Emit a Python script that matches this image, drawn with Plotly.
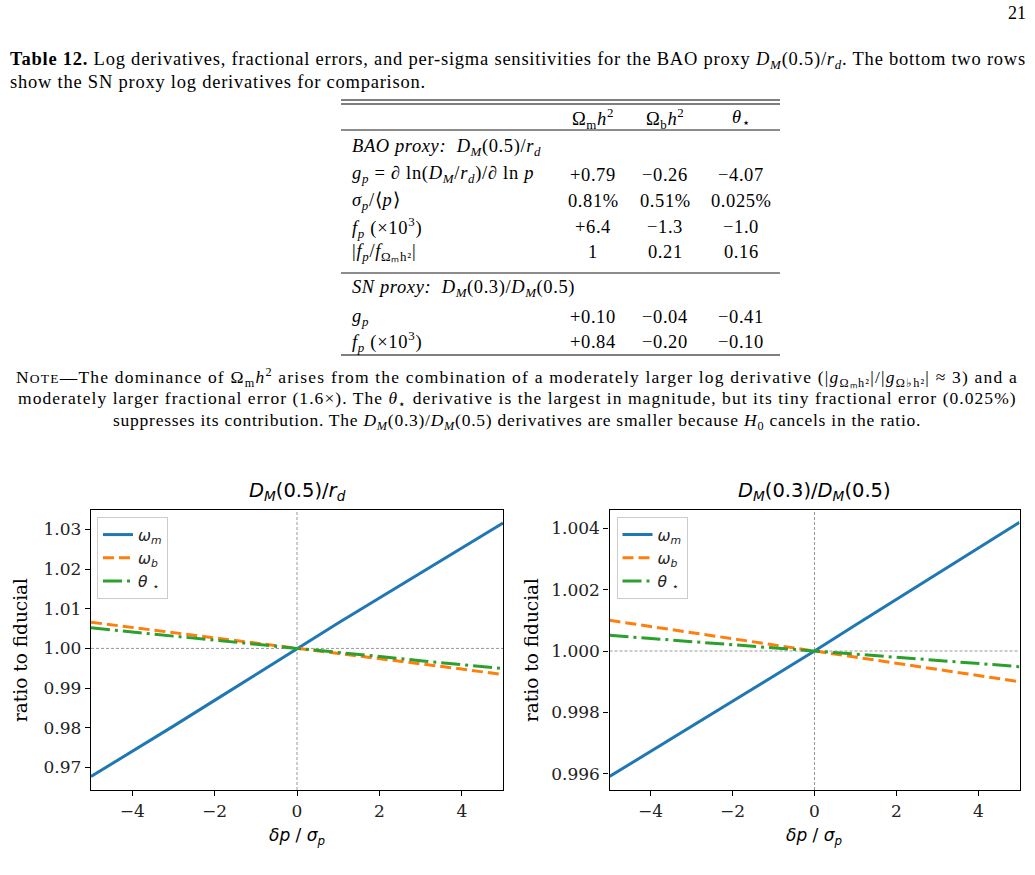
import plotly.graph_objects as go

W, H = 1035, 875

# ---------------- data ----------------
x_sig = [-5, -4, -3, -2, -1, 0, 1, 2, 3, 4, 5]

# Left panel: D_M(0.5)/r_d
bao_wm = [0.9677, 0.9740, 0.9804, 0.9869, 0.9934, 1.0000, 1.0064, 1.0127, 1.0190, 1.0253, 1.0316]
bao_wb = [1.0066, 1.0053, 1.0040, 1.0026, 1.0013, 1.0000, 0.9987, 0.9974, 0.9961, 0.9948, 0.9934]
bao_th = [1.0052, 1.0041, 1.0031, 1.0021, 1.0010, 1.0000, 0.9990, 0.9979, 0.9969, 0.9959, 0.9949]

# Right panel: D_M(0.3)/D_M(0.5)
sn_wm = [0.99591, 0.99673, 0.99756, 0.99838, 0.99919, 1.00000, 1.00085, 1.00168, 1.00252, 1.00336, 1.00419]
sn_wb = [1.00100, 1.00080, 1.00060, 1.00040, 1.00020, 1.00000, 0.99980, 0.99960, 0.99940, 0.99920, 0.99900]
sn_th = [1.00051, 1.00041, 1.00031, 1.00020, 1.00010, 1.00000, 0.99990, 0.99980, 0.99969, 0.99959, 0.99949]

series_names = ["<i>ω<sub>m</sub></i>", "<i>ω<sub>b</sub></i>", "<i>θ</i> <sub>⋆</sub>"]
series_colors = ["#1f77b4", "#ff7f0e", "#2ca02c"]
series_dash = ["solid", "11px,5px", "19px,5px,3px,5px"]

left_yticks = [0.97, 0.98, 0.99, 1.00, 1.01, 1.02, 1.03]
right_yticks = [0.996, 0.998, 1.000, 1.002, 1.004]
x_ticks = [-4, -2, 0, 2, 4]

# Table contents
col_heads = ["Ω<sub>m</sub><i>h</i><sup>2</sup>", "Ω<sub>b</sub><i>h</i><sup>2</sup>", "<i>θ</i><sub>⋆</sub>"]
bao_rows = [
    ("<i>g<sub>p</sub></i> = ∂ ln(<i>D<sub>M</sub></i>/<i>r<sub>d</sub></i>)/∂ ln <i>p</i>", ["+0.79", "−0.26", "−4.07"]),
    ("<i>σ<sub>p</sub></i>/⟨<i>p</i>⟩", ["0.81%", "0.51%", "0.025%"]),
    ("<i>f<sub>p</sub></i> (×10<sup>3</sup>)", ["+6.4", "−1.3", "−1.0"]),
    ("|<i>f<sub>p</sub></i>/<i>f</i><sub>Ωₘh²</sub>|", ["1", "0.21", "0.16"]),
]
sn_rows = [
    ("<i>g<sub>p</sub></i>", ["+0.10", "−0.04", "−0.41"]),
    ("<i>f<sub>p</sub></i> (×10<sup>3</sup>)", ["+0.84", "−0.20", "−0.10"]),
]

# ---------------- helpers ----------------
def px(x):
    return x / W

def py(y):
    return 1 - y / H

SERIF = "Liberation Serif"
PAGE_FS = 18.5
TABLE_FS = 18.5
NOTE_FS = 17.5

annotations = []
shapes = []

def text(x, y, s, size=PAGE_FS, anchor="left", font=SERIF, angle=0, spacing=None):
    if spacing:
        s = "<span style='letter-spacing:%.2fpx'>%s</span>" % (spacing, s)
    annotations.append(dict(
        x=px(x), y=py(y), xref="paper", yref="paper", text=s, showarrow=False,
        xanchor=anchor, yanchor="middle", textangle=angle,
        font=dict(family=font, size=size, color="black"),
    ))

def hline(x0, x1, y, w=1.0, color="black"):
    shapes.append(dict(type="line", xref="paper", yref="paper",
                       x0=px(x0), x1=px(x1), y0=py(y), y1=py(y),
                       line=dict(color=color, width=w)))

# page number
text(1028, 13, "21", size=18, anchor="right")

# caption
text(8, 60, "<b>Table 12.</b> Log derivatives, fractional errors, and per-sigma sensitivities for the BAO proxy "
            "<i>D<sub>M</sub></i>(0.5)/<i>r<sub>d</sub></i>. The bottom two rows", spacing=0.77)
text(8, 82, "show the SN proxy log derivatives for comparison.", spacing=0.77)

# table
TL, TR = 341, 780
hline(TL, TR, 100, 1.2)
hline(TL, TR, 104, 1.2)
hline(TL, TR, 130, 0.9)
hline(TL, TR, 273, 0.9)
hline(TL, TR, 355, 1.2)

col_x = [593, 665, 741]
for cx, h in zip(col_x, col_heads):
    text(cx, 118, h, size=TABLE_FS, anchor="center", spacing=0.6)

text(350, 147, "<i>BAO proxy:</i>  <i>D<sub>M</sub></i>(0.5)/<i>r<sub>d</sub></i>", size=TABLE_FS, spacing=0.6)
for (lab, vals), ry in zip(bao_rows, [175, 201, 227, 252]):
    text(350, ry, lab, size=TABLE_FS, spacing=0.7)
    for cx, v in zip(col_x, vals):
        text(cx, ry, v, size=TABLE_FS, anchor="center", spacing=0.6)

text(350, 288, "<i>SN proxy:</i>  <i>D<sub>M</sub></i>(0.3)/<i>D<sub>M</sub></i>(0.5)", size=TABLE_FS, spacing=0.6)
for (lab, vals), ry in zip(sn_rows, [317, 342]):
    text(350, ry, lab, size=TABLE_FS, spacing=0.7)
    for cx, v in zip(col_x, vals):
        text(cx, ry, v, size=TABLE_FS, anchor="center", spacing=0.6)

# note
text(517, 378, "N<span style='font-size:13.5px'>OTE</span>—The dominance of Ω<sub>m</sub><i>h</i><sup>2</sup> arises from the "
               "combination of a moderately larger log derivative (|<i>g</i><sub>Ωₘh²</sub>|/|<i>g</i><sub>Ω♭h²</sub>| ≈ 3) and a",
     size=NOTE_FS, anchor="center", spacing=1.2)
text(517, 400, "moderately larger fractional error (1.6×). The <i>θ</i><sub>⋆</sub> derivative is the largest in magnitude, "
               "but its tiny fractional error (0.025%)", size=NOTE_FS, anchor="center", spacing=1.05)
text(517, 422, "suppresses its contribution. The <i>D<sub>M</sub></i>(0.3)/<i>D<sub>M</sub></i>(0.5) derivatives are "
               "smaller because <i>H</i><sub>0</sub> cancels in the ratio.", size=NOTE_FS, anchor="center", spacing=0.75)

# ---------------- plots ----------------
fig = go.Figure()

panels = [
    dict(xa="x", ya="y", leg="legend", data=[bao_wm, bao_wb, bao_th]),
    dict(xa="x2", ya="y2", leg="legend2", data=[sn_wm, sn_wb, sn_th]),
]
for p in panels:
    for name, col, dash, ys in zip(series_names, series_colors, series_dash, p["data"]):
        fig.add_trace(go.Scatter(
            x=x_sig, y=ys, mode="lines", name=name, xaxis=p["xa"], yaxis=p["ya"],
            legend=p["leg"], line=dict(color=col, width=3, dash=dash),
        ))
    # reference lines
    shapes.append(dict(type="line", xref=p["xa"], yref=p["ya"] + " domain", x0=0, x1=0, y0=0, y1=1,
                       line=dict(color="#8c8c8c", width=0.9, dash="3px,2px"), layer="below"))
    shapes.append(dict(type="line", xref=p["xa"] + " domain", yref=p["ya"], x0=0, x1=1, y0=1, y1=1,
                       line=dict(color="#8c8c8c", width=0.9, dash="3px,2px"), layer="below"))

PLOT_SANS = "DejaVu Sans"
PLOT_SERIF = "DejaVu Serif"

axis_common = dict(showline=True, mirror=True, linecolor="black", linewidth=1.4,
                   ticks="outside", ticklen=5, tickwidth=1.3, tickcolor="black",
                   showgrid=False, zeroline=False,
                   tickfont=dict(family=PLOT_SERIF, size=17, color="#222"))

ydom = [py(790), py(510)]
fig.update_layout(
    xaxis=dict(domain=[px(91), px(503)], range=[-5, 5], tickvals=x_ticks, anchor="y", **axis_common),
    yaxis=dict(domain=ydom, range=[0.9643, 1.0349], tickvals=left_yticks, tickformat=".2f", anchor="x", **axis_common),
    xaxis2=dict(domain=[px(609.5), px(1019.5)], range=[-5, 5], tickvals=x_ticks, anchor="y2", **axis_common),
    yaxis2=dict(domain=ydom, range=[0.995472, 1.004593], tickvals=right_yticks, tickformat=".3f", anchor="x2", **axis_common),
)

leg_common = dict(bgcolor="rgba(255,255,255,0.85)", bordercolor="#cccccc", borderwidth=1,
                  font=dict(family=PLOT_SANS, size=15.5, color="#222"), xanchor="left", yanchor="top",
                  itemwidth=30, tracegroupgap=0)
fig.update_layout(
    legend=dict(x=px(97), y=py(517), **leg_common),
    legend2=dict(x=px(616.5), y=py(517), **leg_common),
)

# panel titles and axis labels
for cx, title in [(297, "<i>D<sub>M</sub></i>(0.5)/<i>r<sub>d</sub></i>"),
                  (814, "<i>D<sub>M</sub></i>(0.3)/<i>D<sub>M</sub></i>(0.5)")]:
    text(cx, 491, title, size=19.5, anchor="center", font=PLOT_SANS)
    text(cx, 836, "<i>δp</i> / <i>σ<sub>p</sub></i>", size=17, anchor="center", font=PLOT_SANS)
text(20, 650, "ratio to fiducial", size=18.5, anchor="center", font=PLOT_SERIF, angle=-90)
text(531, 650, "ratio to fiducial", size=18.5, anchor="center", font=PLOT_SERIF, angle=-90)

fig.update_layout(
    width=W, height=H, margin=dict(l=0, r=0, t=0, b=0),
    paper_bgcolor="white", plot_bgcolor="white",
    annotations=annotations, shapes=shapes, showlegend=True,
)

fig.write_html("out.html")
